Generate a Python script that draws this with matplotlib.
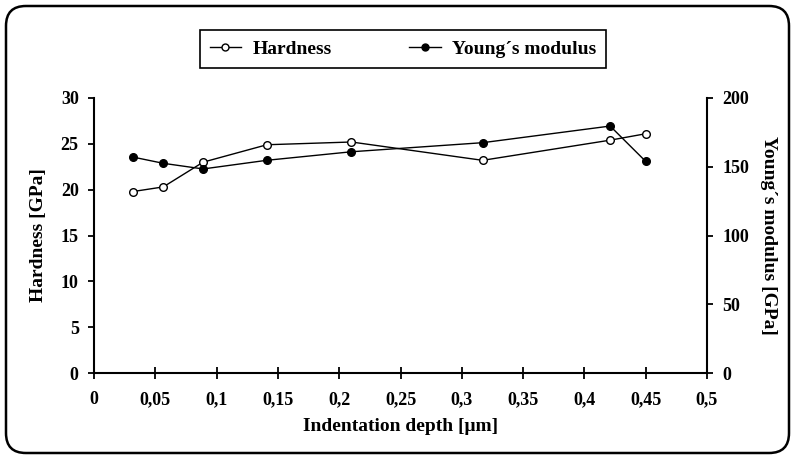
import matplotlib
matplotlib.use("Agg")
import matplotlib.pyplot as plt
from matplotlib.patches import FancyBboxPatch
from matplotlib.lines import Line2D

depth = [0.032, 0.0565, 0.089, 0.141, 0.210, 0.317, 0.421, 0.450]
hardness = [19.8, 20.3, 23.0, 24.9, 25.2, 23.2, 25.4, 26.1]
young = [157, 152.5, 148.4, 154.7, 160.9, 167.5, 179.6, 153.9]

x_ticks = [0, 0.05, 0.1, 0.15, 0.2, 0.25, 0.3, 0.35, 0.4, 0.45, 0.5]
x_ticklabels = ["0", "0,05", "0,1", "0,15", "0,2", "0,25", "0,3", "0,35", "0,4", "0,45", "0,5"]
h_ticks = [0, 5, 10, 15, 20, 25, 30]
y_ticks = [0, 50, 100, 150, 200]

plt.rcParams['font.family'] = ['Liberation Serif', 'DejaVu Serif']
plt.rcParams['font.weight'] = 'bold'
plt.rcParams['font.style'] = 'normal'

W, H = 795, 459
fig = plt.figure(figsize=(W / 100, H / 100), dpi=100)
ax = fig.add_axes([94 / W, 1 - 373 / H, (707 - 94) / W, (373 - 98) / H])
ax2 = ax.twinx()

ax.plot(depth, hardness, color='black', lw=1.0, marker='o', ms=5.5,
        mfc='white', mec='black', mew=1.0, zorder=3)
ax2.plot(depth, young, color='black', lw=1.0, marker='o', ms=5.5,
         mfc='black', mec='black', zorder=3)

ax.set_xlim(0, 0.5)
ax.set_ylim(0, 30)
ax2.set_ylim(0, 200)
ax.set_xticks(x_ticks)
ax.set_xticklabels(x_ticklabels)
ax.set_yticks(h_ticks)
ax2.set_yticks(y_ticks)

for a in (ax, ax2):
    a.spines['top'].set_visible(False)
    for s in a.spines.values():
        s.set_linewidth(1.5)
ax2.spines['left'].set_visible(False)
ax2.spines['bottom'].set_visible(False)
ax.spines['right'].set_visible(False)

ax.tick_params(axis='x', direction='inout', length=8, width=1.3, labelsize=13, pad=9)
ax.tick_params(axis='y', direction='out', length=4, width=1.3, labelsize=13, pad=7)
ax2.tick_params(axis='y', direction='out', length=4, width=1.3, labelsize=13, pad=7)

ax.set_xlabel("Indentation depth [μm]", fontsize=14, fontweight='bold', labelpad=7)
ax.set_ylabel("Hardness [GPa]", fontsize=14, fontweight='bold', labelpad=10)
ax2.set_ylabel("Young´s modulus [GPa]", fontsize=14, fontweight='bold',
               rotation=270, labelpad=20)

handles = [
    Line2D([], [], color='black', lw=1.0, marker='o', ms=5, mfc='white', mec='black'),
    Line2D([], [], color='black', lw=1.0, marker='o', ms=5, mfc='black', mec='black'),
]
leg = fig.legend(handles, ["Hardness", "Young´s modulus"], ncol=2,
                 loc='center', bbox_to_anchor=(403 / W, 1 - 49 / H),
                 frameon=True, fancybox=False, edgecolor='black', framealpha=1,
                 handlelength=1.6, handletextpad=0.6,
                 columnspacing=4.0, borderpad=0.5,
                 prop={'family': 'Liberation Serif', 'weight': 'bold',
                       'style': 'normal', 'size': 14})
leg.get_frame().set_linewidth(1.2)
for t in leg.get_texts():
    t.set_fontstyle('normal')
    t.set_fontweight('bold')

border = FancyBboxPatch((6 / W, 6 / H), (W - 12) / W, (H - 12) / H,
                        boxstyle="round,pad=0,rounding_size=0.025",
                        mutation_aspect=W / H,
                        transform=fig.transFigure, fill=False,
                        edgecolor='black', linewidth=1.8)
fig.patches.append(border)

fig.savefig("out.png", dpi=100)
